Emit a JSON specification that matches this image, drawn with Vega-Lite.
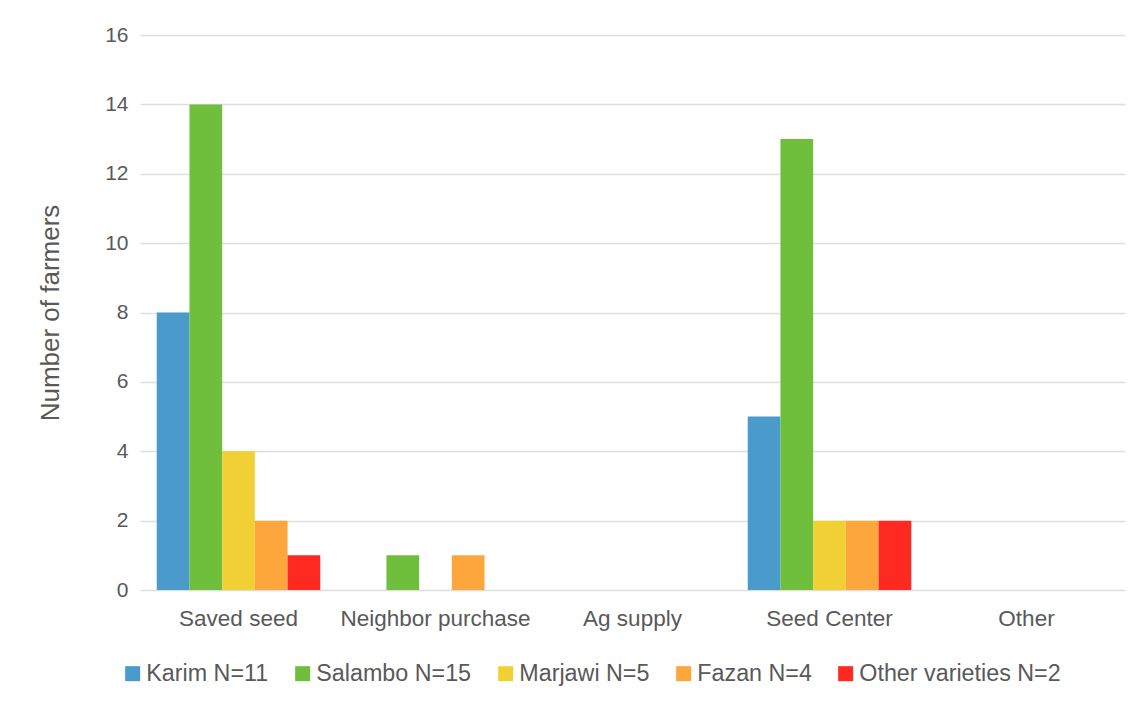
{
  "$schema": "https://vega.github.io/schema/vega-lite/v6.json",
  "autosize": "none",
  "width": 985,
  "height": 555,
  "padding": {"left": 140, "top": 35, "right": 12, "bottom": 117},
  "background": "white",
  "config": {
    "font": "Liberation Sans",
    "view": {"stroke": null}
  },
  "data": {
    "values": [
      {"source": "Saved seed", "variety": "Karim N=11", "farmers": 8},
      {"source": "Saved seed", "variety": "Salambo N=15", "farmers": 14},
      {"source": "Saved seed", "variety": "Marjawi N=5", "farmers": 4},
      {"source": "Saved seed", "variety": "Fazan N=4", "farmers": 2},
      {"source": "Saved seed", "variety": "Other varieties N=2", "farmers": 1},
      {"source": "Neighbor purchase", "variety": "Karim N=11", "farmers": 0},
      {"source": "Neighbor purchase", "variety": "Salambo N=15", "farmers": 1},
      {"source": "Neighbor purchase", "variety": "Marjawi N=5", "farmers": 0},
      {"source": "Neighbor purchase", "variety": "Fazan N=4", "farmers": 1},
      {"source": "Neighbor purchase", "variety": "Other varieties N=2", "farmers": 0},
      {"source": "Ag supply", "variety": "Karim N=11", "farmers": 0},
      {"source": "Ag supply", "variety": "Salambo N=15", "farmers": 0},
      {"source": "Ag supply", "variety": "Marjawi N=5", "farmers": 0},
      {"source": "Ag supply", "variety": "Fazan N=4", "farmers": 0},
      {"source": "Ag supply", "variety": "Other varieties N=2", "farmers": 0},
      {"source": "Seed Center", "variety": "Karim N=11", "farmers": 5},
      {"source": "Seed Center", "variety": "Salambo N=15", "farmers": 13},
      {"source": "Seed Center", "variety": "Marjawi N=5", "farmers": 2},
      {"source": "Seed Center", "variety": "Fazan N=4", "farmers": 2},
      {"source": "Seed Center", "variety": "Other varieties N=2", "farmers": 2},
      {"source": "Other", "variety": "Karim N=11", "farmers": 0},
      {"source": "Other", "variety": "Salambo N=15", "farmers": 0},
      {"source": "Other", "variety": "Marjawi N=5", "farmers": 0},
      {"source": "Other", "variety": "Fazan N=4", "farmers": 0},
      {"source": "Other", "variety": "Other varieties N=2", "farmers": 0}
    ]
  },
  "mark": {"type": "bar", "strokeWidth": 0},
  "encoding": {
    "x": {
      "field": "source",
      "type": "nominal",
      "sort": ["Saved seed", "Neighbor purchase", "Ag supply", "Seed Center", "Other"],
      "scale": {"paddingInner": 0.17, "paddingOuter": 0.085},
      "axis": {
        "title": null,
        "labelAngle": 0,
        "domain": false,
        "ticks": false,
        "tickSize": 0,
        "labelPadding": 17,
        "labelFontSize": 22.5,
        "labelLimit": 400,
        "labelColor": "#595959"
      }
    },
    "xOffset": {
      "field": "variety",
      "type": "nominal",
      "sort": ["Karim N=11", "Salambo N=15", "Marjawi N=5", "Fazan N=4", "Other varieties N=2"]
    },
    "y": {
      "field": "farmers",
      "type": "quantitative",
      "scale": {"domain": [0, 16], "nice": false},
      "axis": {
        "title": "Number of farmers",
        "titleFontSize": 26,
        "titleFontWeight": "normal",
        "titleColor": "#595959",
        "titlePadding": 41,
        "values": [0, 2, 4, 6, 8, 10, 12, 14, 16],
        "domain": false,
        "ticks": false,
        "tickSize": 0,
        "labelPadding": 12,
        "labelFontSize": 21,
        "labelColor": "#595959",
        "gridColor": "#dedede",
        "gridWidth": 1.5
      }
    },
    "color": {
      "field": "variety",
      "type": "nominal",
      "scale": {
        "domain": ["Karim N=11", "Salambo N=15", "Marjawi N=5", "Fazan N=4", "Other varieties N=2"],
        "range": ["#4a9bcb", "#6fbe3c", "#f0d034", "#fda63b", "#fe2a22"]
      },
      "legend": {
        "title": null,
        "orient": "none",
        "direction": "horizontal",
        "columns": 5,
        "legendX": -19,
        "legendY": 627,
        "padding": 0,
        "symbolType": "square",
        "symbolSize": 225,
        "symbolStrokeWidth": 0,
        "labelFontSize": 23.3,
        "labelColor": "#595959",
        "labelOffset": 2,
        "columnPadding": 22,
        "labelLimit": 400
      }
    }
  }
}
